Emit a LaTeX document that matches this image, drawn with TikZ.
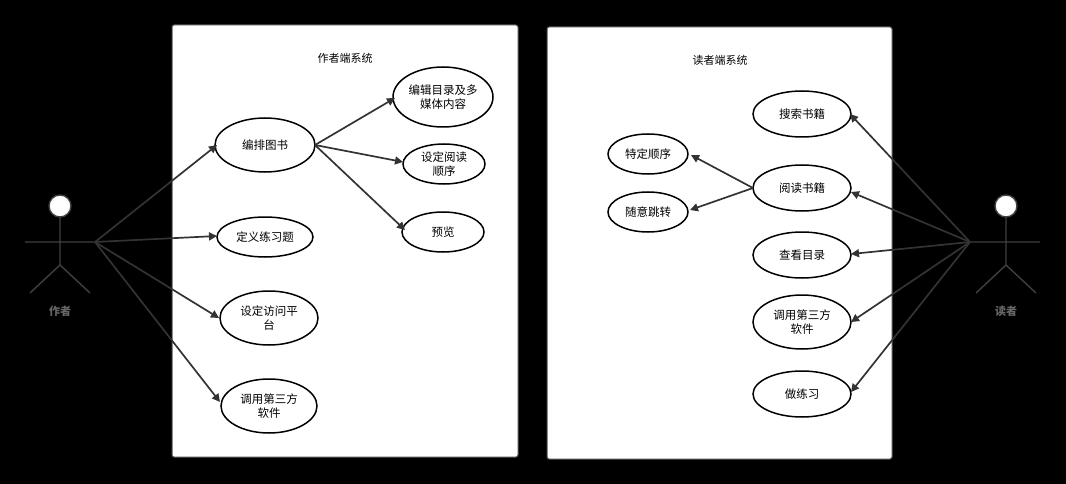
\documentclass[tikz,border=0pt]{standalone}
\usepackage{fontspec}
\setmainfont{Noto Sans CJK SC}
\usetikzlibrary{arrows.meta}
\begin{document}
\begin{tikzpicture}[x=1pt,y=-1pt,
  sysbox/.style={draw=black!70,line width=1pt,fill=white,rounded corners=2pt},
  ln/.style={draw=black!80,line width=1.7pt},
  ar/.style={ln,-{Triangle[length=8pt,width=8pt]}},
  act/.style={draw=black!75,line width=1.4pt}]
\fill[black] (0,0) rectangle (1066,484);
\useasboundingbox (0,0) rectangle (1066,484);
\draw[sysbox] (172,25) rectangle (518,457);
\draw[sysbox] (547,27) rectangle (892,459);
\node[font=\fontsize{11}{13}\selectfont] (t1) at (345,58) {作者端系统};
\node[font=\fontsize{11}{13}\selectfont] (t2) at (720,60) {读者端系统};
\newcommand{\ucell}[6]{\draw[line width=1.5pt,fill=white] (#2,#3) ellipse ({#4} and {#5});
  \node[font=\fontsize{11.5}{14}\selectfont,align=center,inner sep=0pt,minimum width=2*#4 pt,minimum height=2*#5 pt] (#1) at (#2,#3) {#6};}
\ucell{a1}{265}{145}{50}{27}{编排图书}
\ucell{a2}{443}{97}{50}{30}{编辑目录及多\\媒体内容}
\ucell{a3}{444}{164}{41}{20}{设定阅读\\顺序}
\ucell{a4}{443}{232}{41}{20}{预览}
\ucell{a5}{265}{237}{48}{20}{定义练习题}
\ucell{a6}{269}{318}{49}{27}{设定访问平\\台}
\ucell{a7}{269}{406}{48}{27}{调用第三方\\软件}
\ucell{b1}{802}{114}{49}{23}{搜索书籍}
\ucell{b2}{802}{188}{49}{23}{阅读书籍}
\ucell{b3}{802}{255}{49}{23}{查看目录}
\ucell{b4}{802}{322}{49}{27}{调用第三方\\软件}
\ucell{b5}{802}{394}{49}{23}{做练习}
\ucell{c1}{648}{154}{40}{20}{特定顺序}
\ucell{c2}{648}{212}{40}{20}{随意跳转}
\draw[act,fill=white] (60,206) circle (11);
\draw[act] (60,217) -- (60,265) (25,242) -- (95,242) (60,265) -- (30,293) (60,265) -- (90,293);
\coordinate (pa) at (95,242);
\node[text=black!60,font=\fontsize{11}{13}\selectfont\bfseries] (la) at (60,311) {作者};
\draw[act,fill=white] (1006,206) circle (11);
\draw[act] (1006,217) -- (1006,265) (970,242) -- (1040,242) (1006,265) -- (976,293) (1006,265) -- (1036,293);
\coordinate (pr) at (970,242);
\node[text=black!60,font=\fontsize{11}{13}\selectfont\bfseries] (lr) at (1006,311) {读者};
\draw[ar] (pa) -- (217,145);
\draw[ar] (pa) -- (217,236);
\draw[ar] (pa) -- (219,318);
\draw[ar] (pa) -- (220,402);
\draw[ar] (315,145) -- (395,98);
\draw[ar] (315,145) -- (403,162);
\draw[ar] (315,145) -- (405,230);
\draw[ar] (753,188) -- (691,155);
\draw[ar] (753,188) -- (690,210);
\draw[ar] (pr) -- (850,114);
\draw[ar] (pr) -- (851,192);
\draw[ar] (pr) -- (851,254);
\draw[ar] (pr) -- (851,322);
\draw[ar] (pr) -- (851,392);
\end{tikzpicture}
\end{document}
